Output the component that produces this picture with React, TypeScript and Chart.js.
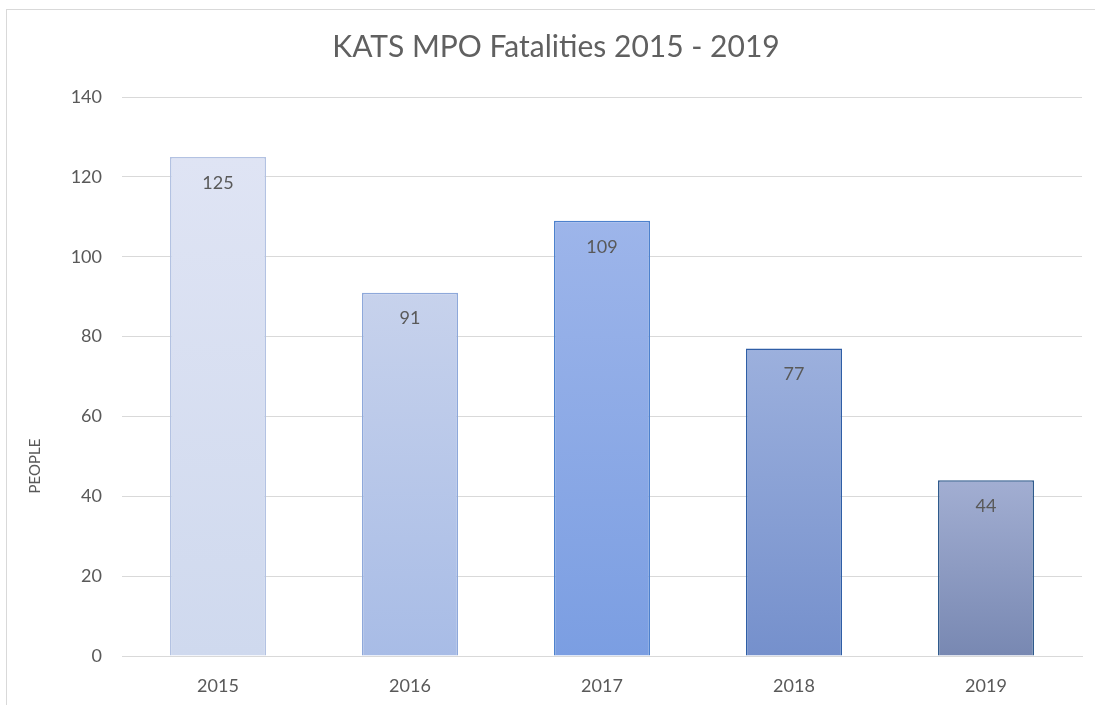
import React, { useEffect, useRef } from "react";
import { Chart, registerables } from "chart.js";

Chart.register(...registerables);

const categories = ["2015", "2016", "2017", "2018", "2019"];
const fatalities = [125, 91, 109, 77, 44];
const yTicks = [0, 20, 40, 60, 80, 100, 120, 140];
const yTitle = "PEOPLE";

const topColors = ["#dfe4f4", "#c7d2ec", "#9db5ea", "#9cb0dd", "#a2aed2"];
const bottomColors = ["#cfd9ee", "#a8bce6", "#7b9ee2", "#7590cc", "#7888b2"];
const borderColors = ["#b3c2e2", "#8ea8da", "#4d81cd", "#2f5ea6", "#2f5a8c"];

const FONT = "Lato, 'Open Sans', sans-serif";
const TEXT = "#595959";

const framePlugin = {
  id: "frame",
  beforeDraw(chart: any) {
    const c = chart.ctx;
    c.save();
    c.fillStyle = "#ffffff";
    c.fillRect(0, 0, chart.width, chart.height);
    c.strokeStyle = "#d9d9d9";
    c.lineWidth = 1;
    c.strokeRect(6.5, 9.5, chart.width + 10, chart.height + 10);
    c.restore();
  },
  afterDraw(chart: any) {
    const c = chart.ctx;
    c.save();
    c.fillStyle = TEXT;
    c.font = `15px ${FONT}`;
    c.textAlign = "center";
    c.textBaseline = "middle";
    c.translate(35, 466);
    c.rotate(-Math.PI / 2);
    c.fillText(yTitle, 0, 0);
    c.restore();
  },
};

const labelPlugin = {
  id: "barLabels",
  afterDatasetsDraw(chart: any) {
    const c = chart.ctx;
    const meta = chart.getDatasetMeta(0);
    c.save();
    c.fillStyle = TEXT;
    c.font = `18px ${FONT}`;
    c.textAlign = "center";
    c.textBaseline = "middle";
    meta.data.forEach((bar: any, i: number) => {
      c.fillText(String(fatalities[i]), bar.x, bar.y + 26);
    });
    c.restore();
  },
};

export default function App() {
  const ref = useRef<HTMLCanvasElement | null>(null);

  useEffect(() => {
    document.body.style.margin = "0";
    const canvas = ref.current;
    if (!canvas) return;
    const chart = new Chart(canvas, {
      type: "bar",
      data: {
        labels: categories,
        datasets: [
          {
            data: fatalities,
            backgroundColor: (ctx: any) => {
              const ch = ctx.chart;
              const i = ctx.dataIndex;
              const y = ch.scales?.y;
              if (!ch.chartArea || !y || i === undefined) return topColors[i ?? 0];
              const yTop = y.getPixelForValue(fatalities[i]);
              const yBot = y.getPixelForValue(0);
              if (!isFinite(yTop) || !isFinite(yBot) || yTop === yBot) return topColors[i];
              const g = ch.ctx.createLinearGradient(0, yTop, 0, yBot);
              g.addColorStop(0, topColors[i]);
              g.addColorStop(1, bottomColors[i]);
              return g;
            },
            borderColor: borderColors,
            borderWidth: 1.5,
            barPercentage: 0.5,
            categoryPercentage: 1,
          },
        ],
      },
      options: {
        responsive: false,
        animation: false,
        layout: { padding: { left: 30, right: 13, top: 10, bottom: 0 } },
        plugins: {
          legend: { display: false },
          tooltip: { enabled: false },
          title: {
            display: true,
            text: "KATS MPO Fatalities 2015 - 2019",
            color: "#606060",
            font: { family: FONT, size: 30, weight: "normal" },
            padding: { top: 19, bottom: 32 },
          },
        },
        scales: {
          x: {
            grid: { display: false, drawTicks: false },
            border: { display: true, color: "#d9d9d9", width: 1 },
            ticks: {
              color: TEXT,
              font: { family: FONT, size: 18 },
              padding: 19,
            },
            afterFit(scale: any) {
              scale.height = 49;
            },
          },
          y: {
            min: 0,
            max: 140,
            afterBuildTicks(scale: any) {
              scale.ticks = yTicks.map((v) => ({ value: v }));
            },
            grid: { color: "#d9d9d9", lineWidth: 1, drawTicks: false },
            border: { display: false },
            ticks: {
              color: TEXT,
              font: { family: FONT, size: 18 },
              padding: 20,
            },
            afterFit(scale: any) {
              scale.width = 92;
            },
          },
        },
      },
      plugins: [framePlugin, labelPlugin],
    } as any);
    return () => chart.destroy();
  }, []);

  return (
    <div style={{ width: 1095, height: 705 }}>
      <canvas ref={ref} width={1095} height={705} style={{ display: "block" }} />
    </div>
  );
}
